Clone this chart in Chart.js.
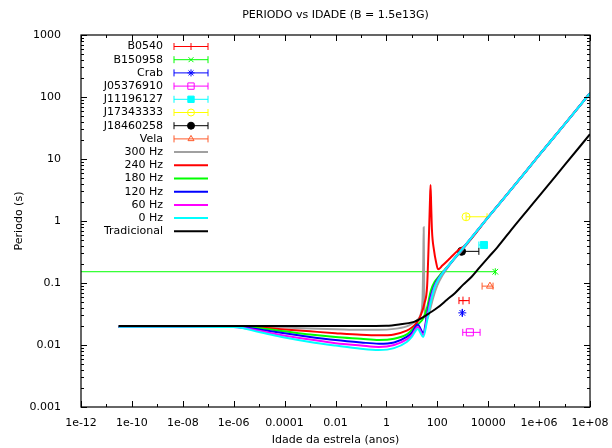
<!DOCTYPE html>
<html lang="pt">

<head>
  <meta charset="utf-8">
  <title>PERIODO vs IDADE</title>
  <script src="https://cdn.jsdelivr.net/npm/chart.js@4.4.0/dist/chart.umd.min.js"></script>
  <style>
    html, body { margin: 0; padding: 0; background: #fff; }
    #chart { display: block; }
  </style>
</head>

<body>
  <canvas id="chart" width="612" height="448"></canvas>
  <script>
    const chartTitle = 'PERIODO vs IDADE (B = 1.5e13G)';

    const xTicks = [1e-12, 1e-10, 1e-8, 1e-6, 1e-4, 1e-2, 1, 1e2, 1e4, 1e6, 1e8];
    const xTickLabels = ['1e-12', '1e-10', '1e-08', '1e-06', '0.0001', '0.01', '1', '100', '10000', '1e+06', '1e+08'];
    const yTicks = [1e-3, 1e-2, 1e-1, 1, 10, 100, 1000];
    const yTickLabels = ['0.001', '0.01', '0.1', '1', '10', '100', '1000'];

    // pulsares observados: idade (anos), periodo (s), faixa de idade
    const pulsarNames = ['B0540', 'B150958', 'Crab', 'J05376910', 'J11196127', 'J17343333', 'J18460258', 'Vela'];
    const pulsarAge = [1020, 1.9e4, 960, 1900, 6800, 1350, 900, 1.17e4];
    const pulsarPeriod = [0.052, 0.152, 0.033, 0.016, 0.41, 1.17, 0.324, 0.089];
    const pulsarAgeLow = [710, 1e-13, 960, 1000, 4300, 1350, 900, 5750];
    const pulsarAgeHigh = [1780, 1.9e4, 960, 4800, 7000, 9000, 4300, 15500];
    const pulsarColors = ['#ff0000', '#00ff00', '#0000ff', '#ff00ff', '#00ffff', '#ffff00', '#000000', '#ff5a2a'];
    const pulsarStyles = ['cross', 'crossRot', 'star', 'rect', 'rect', 'circle', 'circle', 'triangle'];
    const pulsarFilled = [false, false, false, false, true, false, true, false];

    // curvas de evolucao do periodo
    const ageFreq = [3e-11, 1e-8, 1e-6, 1e-5, 1e-4, 1e-3, 1e-2, 0.1, 0.5, 2, 6.3, 10, 17, 28, 40, 56, 79, 112, 200, 400, 1000, 1e4, 1e5, 1e6, 1e7, 1e8];
    const period0Hz = [0.0197, 0.0197, 0.0195, 0.0162, 0.0132, 0.0112, 0.0098, 0.0087, 0.0083, 0.0089, 0.0112, 0.0135, 0.0182, 0.0135, 0.0251, 0.0501, 0.0851, 0.115, 0.162, 0.229, 0.363, 1.15, 3.63, 11.5, 36.3, 115];
    const period60Hz = [0.0197, 0.0197, 0.0196, 0.0170, 0.0141, 0.0123, 0.0107, 0.0098, 0.0093, 0.0100, 0.0123, 0.0145, 0.0195, 0.0145, 0.0282, 0.0562, 0.0891, 0.117, 0.162, 0.229, 0.363, 1.15, 3.63, 11.5, 36.3, 115];
    const period120Hz = [0.0197, 0.0197, 0.0197, 0.0178, 0.0155, 0.0135, 0.0120, 0.0110, 0.0105, 0.0110, 0.0135, 0.0158, 0.0214, 0.0158, 0.0316, 0.0617, 0.0933, 0.120, 0.162, 0.229, 0.363, 1.15, 3.63, 11.5, 36.3, 115];
    const period180Hz = [0.0197, 0.0197, 0.0197, 0.0186, 0.0166, 0.0148, 0.0135, 0.0126, 0.0120, 0.0126, 0.0148, 0.0174, 0.0214, 0.0269, 0.0407, 0.0759, 0.105, 0.126, 0.166, 0.229, 0.363, 1.15, 3.63, 11.5, 36.3, 115];

    const age240Hz = [3e-11, 1e-8, 1e-6, 1e-5, 1e-4, 1e-3, 1e-2, 0.1, 0.5, 2, 6.3, 10, 15.8, 22.4, 31.6, 39.8, 46.8, 51.3, 54.3, 57.5, 61.7, 74.1, 89.1, 107, 158, 316, 631, 1260, 1e4, 1e5, 1e6, 1e7, 1e8];
    const period240Hz = [0.0197, 0.0197, 0.0197, 0.0191, 0.0178, 0.0166, 0.0155, 0.0146, 0.0143, 0.0148, 0.0170, 0.0191, 0.0229, 0.0302, 0.0479, 0.0891, 0.562, 2.0, 3.8, 1.78, 0.708, 0.339, 0.219, 0.166, 0.191, 0.251, 0.331, 0.407, 1.15, 3.63, 11.5, 36.3, 115];

    const age300Hz = [3e-11, 1e-8, 1e-6, 1e-5, 1e-4, 1e-3, 1e-2, 0.1, 0.5, 2, 6.3, 10, 15.8, 22.4, 26.3, 28.2, 29.2, 29.9, 30.9, 33.9, 39.8, 50.1, 70.8, 100, 158, 316, 1000, 1e4, 1e5, 1e6, 1e7, 1e8];
    const period300Hz = [0.0197, 0.0197, 0.0197, 0.0197, 0.0191, 0.0184, 0.0180, 0.0176, 0.0176, 0.0182, 0.0200, 0.0219, 0.0251, 0.0316, 0.0562, 0.251, 0.794, 0.251, 0.0501, 0.0282, 0.0263, 0.0355, 0.0603, 0.0912, 0.132, 0.200, 0.347, 1.15, 3.63, 11.5, 36.3, 115];

    const ageTrad = [3e-11, 1e-8, 1e-4, 1e-2, 0.1, 1, 3.16, 11.2, 25.1, 51.3, 100, 240, 501, 1020, 2240, 4790, 1e4, 2.24e4, 9.33e4, 1e6, 1e7, 1e8];
    const periodTrad = [0.0202, 0.0202, 0.0202, 0.0202, 0.0202, 0.0204, 0.0214, 0.0234, 0.0275, 0.0331, 0.0398, 0.0537, 0.0692, 0.0933, 0.126, 0.182, 0.257, 0.372, 0.776, 2.51, 7.94, 25.1];

    const FONT = "'DejaVu Sans', 'Liberation Sans', sans-serif";
    Chart.defaults.font.family = FONT;
    Chart.defaults.font.size = 11;
    Chart.defaults.color = '#000';

    function toPoints(xs, ys) {
      return xs.map((x, i) => ({ x, y: ys[i] }));
    }

    function pulsarDataset(i) {
      return {
        label: pulsarNames[i],
        data: [{ x: pulsarAge[i], y: pulsarPeriod[i] }],
        ageLow: pulsarAgeLow[i],
        ageHigh: pulsarAgeHigh[i],
        showLine: false,
        pointStyle: pulsarStyles[i],
        pointRadius: pulsarStyles[i] === 'rect' ? 5 : 4,
        pointBorderWidth: 1,
        borderColor: pulsarColors[i],
        backgroundColor: pulsarFilled[i] ? pulsarColors[i] : 'rgba(0,0,0,0)',
      };
    }

    function curveDataset(label, xs, ys, color) {
      return {
        label,
        data: toPoints(xs, ys),
        showLine: true,
        pointRadius: 0,
        borderWidth: 2,
        borderColor: color,
        backgroundColor: color,
        cubicInterpolationMode: 'monotone',
        fill: false,
      };
    }

    const datasets = pulsarNames.map((n, i) => pulsarDataset(i)).concat([
      curveDataset('300 Hz', age300Hz, period300Hz, '#a0a0a0'),
      curveDataset('240 Hz', age240Hz, period240Hz, '#ff0000'),
      curveDataset('180 Hz', ageFreq, period180Hz, '#00ff00'),
      curveDataset('120 Hz', ageFreq, period120Hz, '#0000ff'),
      curveDataset('60 Hz', ageFreq, period60Hz, '#ff00ff'),
      curveDataset('0 Hz', ageFreq, period0Hz, '#00ffff'),
      curveDataset('Tradicional', ageTrad, periodTrad, '#000000'),
    ]);
    // gnuplot order: later series on top
    datasets.forEach((ds, i) => { ds.order = -i; });

    function drawCaps(ctx, x, y, h) {
      ctx.moveTo(x, y - h);
      ctx.lineTo(x, y + h);
    }

    // horizontal error bars (age range) drawn under each marker
    const xErrorBars = {
      id: 'xErrorBars',
      beforeDatasetDraw(chart, args) {
        const ds = chart.data.datasets[args.index];
        if (ds.ageLow === undefined) return;
        const { ctx, chartArea: a, scales: { x, y } } = chart;
        const py = y.getPixelForValue(ds.data[0].y);
        const x0 = x.getPixelForValue(ds.ageLow);
        const x1 = x.getPixelForValue(ds.ageHigh);
        ctx.save();
        ctx.beginPath();
        ctx.rect(a.left, a.top, a.width, a.height);
        ctx.clip();
        ctx.strokeStyle = ds.borderColor;
        ctx.lineWidth = 1;
        ctx.beginPath();
        ctx.moveTo(x0, py);
        ctx.lineTo(x1, py);
        drawCaps(ctx, x0, py, 3.5);
        drawCaps(ctx, x1, py, 3.5);
        ctx.stroke();
        ctx.restore();
      }
    };

    // closed border with inward ticks on all four sides
    const frameTicks = {
      id: 'frameTicks',
      afterDatasetsDraw(chart) {
        const { ctx, chartArea: a, scales: { x, y } } = chart;
        ctx.save();
        ctx.strokeStyle = '#000';
        ctx.lineWidth = 1;
        ctx.beginPath();
        for (let e = -12; e <= 8; e++) {
          const px = Math.round(x.getPixelForValue(Math.pow(10, e))) + 0.5;
          const len = e % 2 === 0 ? 6 : 3;
          ctx.moveTo(px, a.bottom); ctx.lineTo(px, a.bottom - len);
          ctx.moveTo(px, a.top); ctx.lineTo(px, a.top + len);
        }
        for (let e = -3; e <= 3; e++) {
          for (let m = 1; m <= 9; m++) {
            if (e === 3 && m > 1) break;
            const py = Math.round(y.getPixelForValue(m * Math.pow(10, e))) + 0.5;
            const len = m === 1 ? 6 : 3;
            ctx.moveTo(a.left, py); ctx.lineTo(a.left + len, py);
            ctx.moveTo(a.right, py); ctx.lineTo(a.right - len, py);
          }
        }
        ctx.stroke();
        ctx.lineWidth = 1.2;
        ctx.strokeRect(a.left, a.top, a.right - a.left, a.bottom - a.top);
        ctx.restore();
      }
    };

    // title and key (labels right aligned, sample to the right)
    const titleKey = {
      id: 'titleKey',
      afterDraw(chart) {
        const { ctx, chartArea: a } = chart;
        ctx.save();
        ctx.font = '11px ' + FONT;
        ctx.fillStyle = '#000';
        ctx.textAlign = 'center';
        ctx.textBaseline = 'middle';
        ctx.fillText(chartTitle, (a.left + a.right) / 2, 15);

        const textX = a.left + 82;
        const x0 = a.left + 93, x1 = a.left + 127;
        chart.data.datasets.forEach((ds, i) => {
          const ky = a.top + 11.5 + i * 13.2;
          ctx.textAlign = 'right';
          ctx.fillStyle = '#000';
          ctx.fillText(ds.label, textX, ky);
          ctx.strokeStyle = ds.borderColor;
          ctx.beginPath();
          if (ds.ageLow !== undefined) {
            ctx.lineWidth = 1;
            ctx.moveTo(x0, ky); ctx.lineTo(x1, ky);
            drawCaps(ctx, x0, ky, 3.5);
            drawCaps(ctx, x1, ky, 3.5);
            ctx.stroke();
            ctx.fillStyle = ds.backgroundColor;
            Chart.helpers.drawPoint(ctx, {
              pointStyle: ds.pointStyle,
              radius: ds.pointStyle === 'rect' ? 4.5 : 3.5,
              borderWidth: 1,
              rotation: 0
            }, (x0 + x1) / 2, ky);
          } else {
            ctx.lineWidth = 2;
            ctx.moveTo(x0, ky); ctx.lineTo(x1, ky);
            ctx.stroke();
          }
        });
        ctx.restore();
      }
    };

    const config = {
      type: 'scatter',
      data: { datasets },
      options: {
        responsive: false,
        animation: false,
        devicePixelRatio: 1,
        layout: { padding: { left: 0, right: 22, top: 35, bottom: 0 } },
        plugins: {
          legend: { display: false },
          tooltip: { enabled: false },
          title: { display: false },
        },
        scales: {
          x: {
            type: 'logarithmic',
            position: 'bottom',
            min: 1e-12,
            max: 1e8,
            grid: { display: false },
            border: { display: false },
            afterBuildTicks: (scale) => { scale.ticks = xTicks.map(v => ({ value: v })); },
            afterFit: (scale) => {
              scale.height = 41;
              scale.paddingLeft = 0;
              scale.paddingRight = 0;
            },
            ticks: {
              autoSkip: false,
              maxRotation: 0,
              padding: 2,
              callback: (v, i) => xTickLabels[i],
            },
            title: { display: true, text: 'Idade da estrela (anos)', padding: { top: 0, bottom: 1 } },
          },
          y: {
            type: 'logarithmic',
            position: 'left',
            min: 1e-3,
            max: 1e3,
            grid: { display: false },
            border: { display: false },
            afterBuildTicks: (scale) => { scale.ticks = yTicks.map(v => ({ value: v })); },
            afterFit: (scale) => { scale.width = 81; },
            ticks: {
              autoSkip: false,
              padding: 12,
              callback: (v, i) => yTickLabels[i],
            },
            title: { display: true, text: 'Periodo (s)', padding: { top: 13, bottom: 0 } },
          },
        },
      },
      plugins: [xErrorBars, frameTicks, titleKey],
    };

    window.chart = new Chart(document.getElementById('chart'), config);
  </script>
</body>

</html>
